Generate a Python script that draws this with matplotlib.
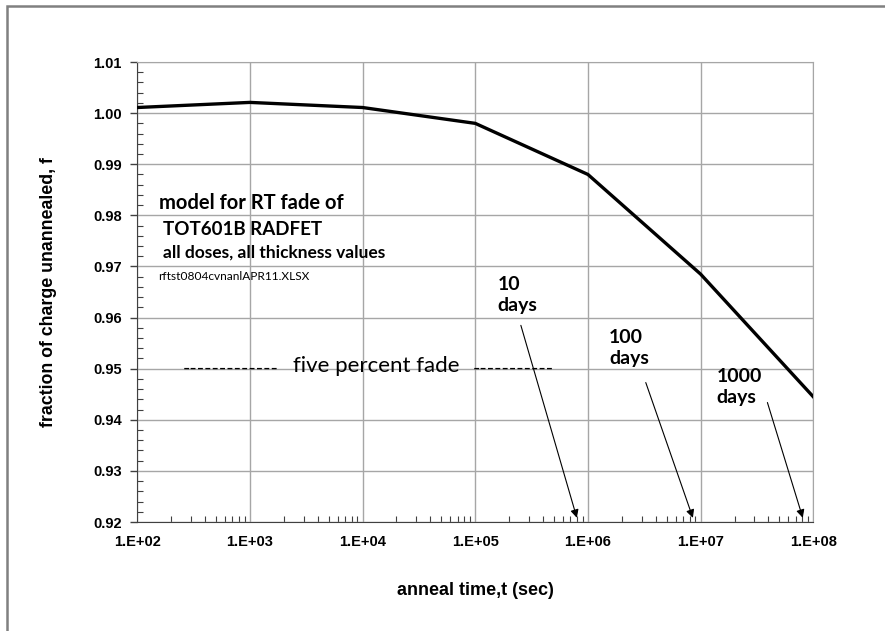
import matplotlib
matplotlib.use("Agg")
import matplotlib.pyplot as plt
from matplotlib.ticker import FixedLocator, FuncFormatter, MultipleLocator
from matplotlib.patches import Rectangle

# anneal time (sec) and fraction of charge unannealed
t_sec = [1e2, 1e3, 1e4, 1e5, 1e6, 1e7, 1e8]
frac = [1.0011, 1.0021, 1.0011, 0.998, 0.988, 0.9685, 0.9445]

x_ticks = [1e2, 1e3, 1e4, 1e5, 1e6, 1e7, 1e8]
x_tick_labels = ["1.E+02", "1.E+03", "1.E+04", "1.E+05", "1.E+06", "1.E+07", "1.E+08"]
y_ticks = [0.92, 0.93, 0.94, 0.95, 0.96, 0.97, 0.98, 0.99, 1.00, 1.01]

# day markers: label, text anchor (axes fraction), arrow start, arrow end (data coords)
day_labels = ["10\ndays", "100\ndays", "1000\ndays"]
day_text_xy = [(0.533, 0.493), (0.698, 0.378), (0.857, 0.293)]
day_arrow_from = [(2.5e5, 0.959), (3.2e6, 0.9478), (3.85e7, 0.9439)]
day_arrow_to = [(8.1e5, 0.9203), (8.7e6, 0.9203), (8.2e7, 0.9203)]

label_font = "Liberation Sans"
note_font = "Lato"

fig = plt.figure(figsize=(8.85, 6.31), dpi=100)
ax = fig.add_axes([0.155, 0.1727, 0.764, 0.729])

ax.plot(t_sec, frac, color="black", lw=2.4, zorder=3)

ax.set_xscale("log")
ax.set_xlim(1e2, 1e8)
ax.set_ylim(0.92, 1.01)
ax.xaxis.set_major_locator(FixedLocator(x_ticks))
ax.xaxis.set_major_formatter(FuncFormatter(lambda v, p: x_tick_labels[x_ticks.index(v)] if v in x_ticks else ""))
ax.yaxis.set_major_locator(FixedLocator(y_ticks))
ax.yaxis.set_major_formatter(FuncFormatter(lambda v, p: "%.2f" % v))
ax.yaxis.set_minor_locator(MultipleLocator(0.002))

ax.grid(True, which="major", color="#a6a6a6", lw=1.0)
ax.tick_params(which="major", direction="out", length=5, width=1, color="#404040", pad=6)
ax.tick_params(which="minor", direction="in", length=4, width=0.8, color="#404040")
ax.tick_params(axis="x", which="major", length=0, pad=9)
for lab in ax.get_xticklabels() + ax.get_yticklabels():
    lab.set_fontfamily(label_font)
    lab.set_fontweight("bold")
    lab.set_fontsize(10.5)

for s in ["top", "right"]:
    ax.spines[s].set_color("#a6a6a6")
for s in ["left", "bottom"]:
    ax.spines[s].set_color("#404040")

ax.set_xlabel("anneal time,t (sec)", fontfamily=label_font, fontweight="bold", fontsize=13, labelpad=24)
ax.set_ylabel("fraction of charge unannealed, f", fontfamily=label_font, fontweight="bold", fontsize=12.8, labelpad=26)

ax.text(0.033, 0.693, "model for RT fade of", transform=ax.transAxes, fontfamily=note_font,
        fontweight="bold", fontsize=14.5, va="center")
ax.text(0.038, 0.635, "TOT601B RADFET", transform=ax.transAxes, fontfamily=note_font,
        fontweight="bold", fontsize=13.5, va="center")
ax.text(0.038, 0.585, "all doses, all thickness values", transform=ax.transAxes, fontfamily=note_font,
        fontweight="bold", fontsize=12.5, va="center")
ax.text(0.031, 0.533, "rftst0804cvnanlAPR11.XLSX", transform=ax.transAxes, fontfamily=note_font,
        fontsize=8.6, va="center")

# five percent fade marker: dashes on both sides of the text
ax.text(0.1376, 0.95, "-------------", transform=ax.get_yaxis_transform(),
        fontfamily=note_font, fontsize=14, ha="center", va="center")
ax.text(0.3536, 0.9505, "five percent fade", transform=ax.get_yaxis_transform(),
        fontfamily=note_font, fontsize=16, ha="center", va="center")
ax.text(0.556, 0.95, "-----------", transform=ax.get_yaxis_transform(),
        fontfamily=note_font, fontsize=14, ha="center", va="center")

for lab, txy, a0, a1 in zip(day_labels, day_text_xy, day_arrow_from, day_arrow_to):
    ax.text(txy[0], txy[1], lab, transform=ax.transAxes, fontfamily=note_font, fontweight="bold",
            fontsize=14, ha="left", va="center", linespacing=1.3)
    ax.annotate("", xy=a1, xytext=a0,
                arrowprops=dict(arrowstyle="-|>", color="black", lw=0.8, mutation_scale=12))

fig.add_artist(Rectangle((7 / 885, -0.05), 1.2, 1 - 6 / 631 + 0.05, transform=fig.transFigure,
                         fill=False, edgecolor="#808080", lw=1.8))

fig.savefig("out.png", dpi=100)
